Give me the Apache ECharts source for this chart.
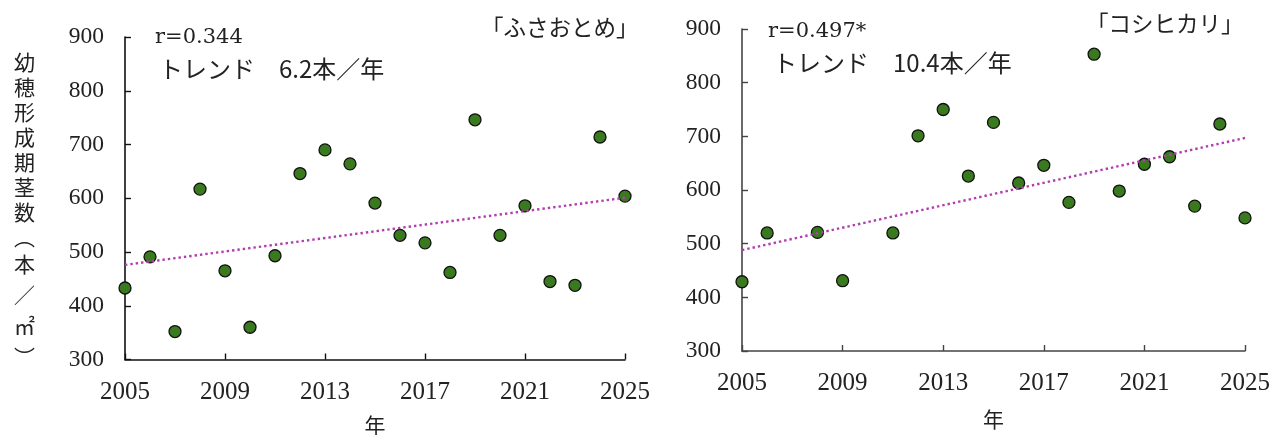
<!DOCTYPE html>
<html><head><meta charset="utf-8">
<script src="https://cdn.jsdelivr.net/npm/echarts@6/dist/echarts.min.js"></script>
<style>html,body{margin:0;padding:0;background:#fff}#c{width:1282px;height:435px}</style>
</head><body><div id="c"></div>
<script>
// ---- data ----
const fusaYears = [2005,2006,2007,2008,2009,2010,2011,2012,2013,2014,2015,2016,2017,2018,2019,2020,2021,2022,2023,2024,2025];
const fusaValues = [433,491,352,617,465,360,493,646,690,664,591,531,517,462,746,531,586,445,438,714,604];
const fusaTrend = [[2005,476],[2025,601]];
const koshiYears = [2005,2006,2008,2009,2011,2012,2013,2014,2015,2016,2017,2018,2019,2020,2021,2022,2023,2024,2025];
const koshiValues = [429,520,521,431,520,701,750,626,726,613,646,577,853,598,648,662,570,723,548];
const koshiTrend = [[2005,488],[2025,697]];
const xTicks = [2005,2009,2013,2017,2021,2025];
const yTicks = [300,400,500,600,700,800,900];
const yLabelA = '幼穂形成期茎数︵';
const yLabelB = '本／㎡︶';
const statsFusa = ['r=0.344', 'トレンド　6.2本／年'];
const statsKoshi = ['r=0.497*', 'トレンド　10.4本／年'];
const titleFusa = '「ふさおとめ」';
const titleKoshi = '「コシヒカリ」';
const xName = '年';

const SERIF = '"Liberation Serif","Noto Sans CJK JP",serif';
const SERIF2 = '"DejaVu Serif","Liberation Serif",serif';
const CJK = '"Noto Sans CJK JP","Liberation Serif",sans-serif';
const pair = (xs, vs) => xs.map((x, i) => [x, vs[i]]);

function xAxis(idx, gap, color) {
  return {
    type: 'value', gridIndex: idx, min: xTicks[0], max: xTicks[xTicks.length-1], interval: 4,
    name: xName, nameLocation: 'middle', nameGap: gap,
    nameTextStyle: {fontFamily: CJK, fontSize: 21, color: '#222'},
    axisLine: {show: true, lineStyle: {color: color, width: 1.6}},
    axisTick: {show: true, inside: true, length: 6, lineStyle: {color: color, width: 1.4}},
    axisLabel: {formatter: v => String(v), fontFamily: SERIF, fontSize: 25, color: '#222', margin: 20},
    splitLine: {show: false}
  };
}
function yAxis(idx, color) {
  return {
    type: 'value', gridIndex: idx, min: yTicks[0], max: yTicks[yTicks.length-1], interval: 100,
    axisLine: {show: true, lineStyle: {color: color, width: 1.6}},
    axisTick: {show: true, inside: true, length: 6, lineStyle: {color: color, width: 1.4}},
    axisLabel: {formatter: v => String(v), fontFamily: SERIF, fontSize: 23.5, color: '#222', margin: 21},
    splitLine: {show: false}
  };
}
const scatterStyle = {color: '#3a7a1f', borderColor: '#111', borderWidth: 1.3, opacity: 1};
const trendStyle = {color: '#b13db0', width: 2.4, type: [2.4, 3]};

const chart = echarts.init(document.getElementById('c'), null, {renderer: 'canvas'});
chart.setOption({
  animation: false,
  backgroundColor: '#fff',
  grid: [
    {left: 125, top: 37, width: 500, height: 322.5, containLabel: false, outerBoundsMode: 'none'},
    {left: 742, top: 29, width: 503, height: 322, containLabel: false, outerBoundsMode: 'none'}
  ],
  xAxis: [xAxis(0, 55, '#111'), xAxis(1, 58, '#444')],
  yAxis: [yAxis(0, '#111'), yAxis(1, '#444')],
  series: [
    {type: 'scatter', xAxisIndex: 0, yAxisIndex: 0, data: pair(fusaYears, fusaValues), symbolSize: 12, itemStyle: scatterStyle, z: 2},
    {type: 'line', xAxisIndex: 0, yAxisIndex: 0, data: fusaTrend, symbol: 'none', lineStyle: trendStyle, z: 3},
    {type: 'scatter', xAxisIndex: 1, yAxisIndex: 1, data: pair(koshiYears, koshiValues), symbolSize: 12, itemStyle: scatterStyle, z: 2},
    {type: 'line', xAxisIndex: 1, yAxisIndex: 1, data: koshiTrend, symbol: 'none', lineStyle: trendStyle, z: 3}
  ],
  graphic: [
    {type: 'text', left: 14, top: 50, style: {text: yLabelA.split('').join('\n'), font: '21px ' + CJK, lineHeight: 25, fill: '#222', align: 'left'}},
    {type: 'text', left: 14, top: 249, style: {text: yLabelB.split('').join('\n'), font: '21px ' + CJK, lineHeight: 31, fill: '#222', align: 'left'}},
    {type: 'text', left: 155, top: 27, style: {text: statsFusa[0], font: '21px ' + SERIF2, fill: '#222'}},
    {type: 'text', left: 159, top: 57, style: {text: statsFusa[1], font: '24px ' + CJK, fill: '#222'}},
    {type: 'text', left: 481, top: 16, style: {text: titleFusa, font: '22.5px ' + CJK, fill: '#222'}},
    {type: 'text', left: 768, top: 21, style: {text: statsKoshi[0], font: '21px ' + SERIF2, fill: '#222'}},
    {type: 'text', left: 773, top: 51, style: {text: statsKoshi[1], font: '24px ' + CJK, fill: '#222'}},
    {type: 'text', left: 1086, top: 12, style: {text: titleKoshi, font: '22.5px ' + CJK, fill: '#222'}}
  ]
});
</script></body></html>
